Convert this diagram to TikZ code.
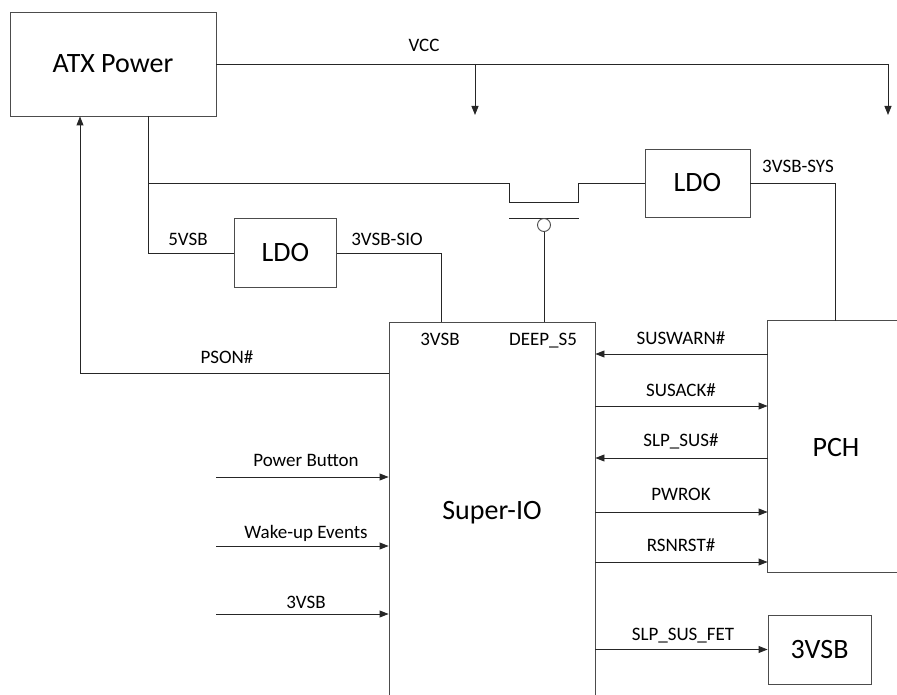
\documentclass[tikz,border=0pt]{standalone}
\usepackage{fontspec}
\setmainfont{Carlito}
\usetikzlibrary{positioning}
\usetikzlibrary{arrows.meta}

\begin{document}
\begin{tikzpicture}[x=1pt,y=-1pt,
	box/.style={draw=black!70,line width=0.9pt,inner sep=0pt,font=\fontsize{28}{30}\selectfont},
	lbl/.style={font=\fontsize{19}{21}\selectfont,inner sep=0pt,anchor=base},
	wire/.style={draw=black!85,line width=0.9pt},
	sig/.style={wire,-{Triangle[length=9pt,width=7pt]}}]
	\useasboundingbox (0,0) rectangle (897,695);
	% blocks
	\node[box,minimum width=206pt,minimum height=104pt] (atx) at (113,64) {ATX Power};
	\node[box,minimum width=105pt,minimum height=68pt] (ldosys) at (697.5,183) {LDO};
	\node[box,minimum width=102pt,minimum height=69pt] (ldosio) at (285.5,253) {LDO};
	\node[box,minimum width=206pt,minimum height=381pt] (sio) at (492,512.5) {Super-IO};
	\node[box,draw=none,minimum width=170pt,minimum height=251pt] (pch) at (853,446.5) {};
	\draw[draw=black!70,line width=0.9pt] (pch.north east) -- (pch.north west) -- (pch.south west) -- (pch.south east);
	\node[box,draw=none] (pchtxt) at (836,448) {PCH};
	\node[box,minimum width=103pt,minimum height=69pt] (vsb) at (819.5,649.5) {3VSB};
	% VCC rail
	\coordinate (vcca) at (475,64);
	\coordinate (vccb) at (888,64);
	\draw[wire] (atx.east) -- (vccb);
	\draw[sig] (vcca) -- ++(0,51);
	\draw[sig] (vccb) -- ++(0,51);
	\node[lbl] (vcc) at (424,52) {VCC};
	% 5VSB and the FET
	\coordinate (tap) at (148,116);
	\coordinate (fetl) at (509,183);
	\coordinate (fetr) at (578,183);
	\draw[wire] (tap) |- (ldosio.west);
	\draw[wire] (tap |- fetl) -- (fetl) -- ++(0,19) -| (fetr) -- (ldosys.west);
	\draw[wire] (509,218) -- (579,218);
	\node[circle,draw=black!70,line width=0.9pt,minimum size=13pt,inner sep=0pt] (gate) at (544,225) {};
	\draw[wire] (gate) -- (gate |- sio.north);
	\node[lbl] (l5vsb) at (188,246) {5VSB};
	% LDO outputs
	\coordinate (siovsb) at (441,322);
	\coordinate (pchvsb) at (835,321);
	\draw[wire] (ldosio.east) -| (siovsb);
	\draw[wire] (ldosys.east) -| (pchvsb);
	\node[lbl] (lsio) at (387,246) {3VSB-SIO};
	\node[lbl] (lsys) at (798,173) {3VSB-SYS};
	\node[lbl] (pin3vsb) at (440,345) {3VSB};
	\node[lbl] (pindeep) at (543,345) {DEEP\_S5};
	% PSON#
	\draw[sig] (sio.west |- 0,373) -| (atx.south -| 80,0);
	\node[lbl] (lpson) at (227,363) {PSON\#};
	% Super-IO <-> PCH
	\draw[sig] (pch.west |- 0,354) -- (sio.east |- 0,354);
	\draw[sig] (sio.east |- 0,406) -- (pch.west |- 0,406);
	\draw[sig] (pch.west |- 0,458) -- (sio.east |- 0,458);
	\draw[sig] (sio.east |- 0,512) -- (pch.west |- 0,512);
	\draw[sig] (sio.east |- 0,562) -- (pch.west |- 0,562);
	\node[lbl] (lwarn) at (681,344) {SUSWARN\#};
	\node[lbl] (lack) at (681,396) {SUSACK\#};
	\node[lbl] (lslp) at (681,446) {SLP\_SUS\#};
	\node[lbl] (lpwrok) at (681,500) {PWROK};
	\node[lbl] (lrsm) at (681,551) {RSNRST\#};
	\draw[sig] (sio.east |- vsb.west) -- (vsb.west);
	\node[lbl] (lfet) at (683,640) {SLP\_SUS\_FET};
	% inputs
	\foreach \y/\b/\t in {477/466/Power Button,546/538/Wake-up Events,614/608/3VSB}
		\draw[sig] (216,\y) -- (sio.west |- 0,\y) node[lbl] at (306,\b) {\t};
\end{tikzpicture}
\end{document}
